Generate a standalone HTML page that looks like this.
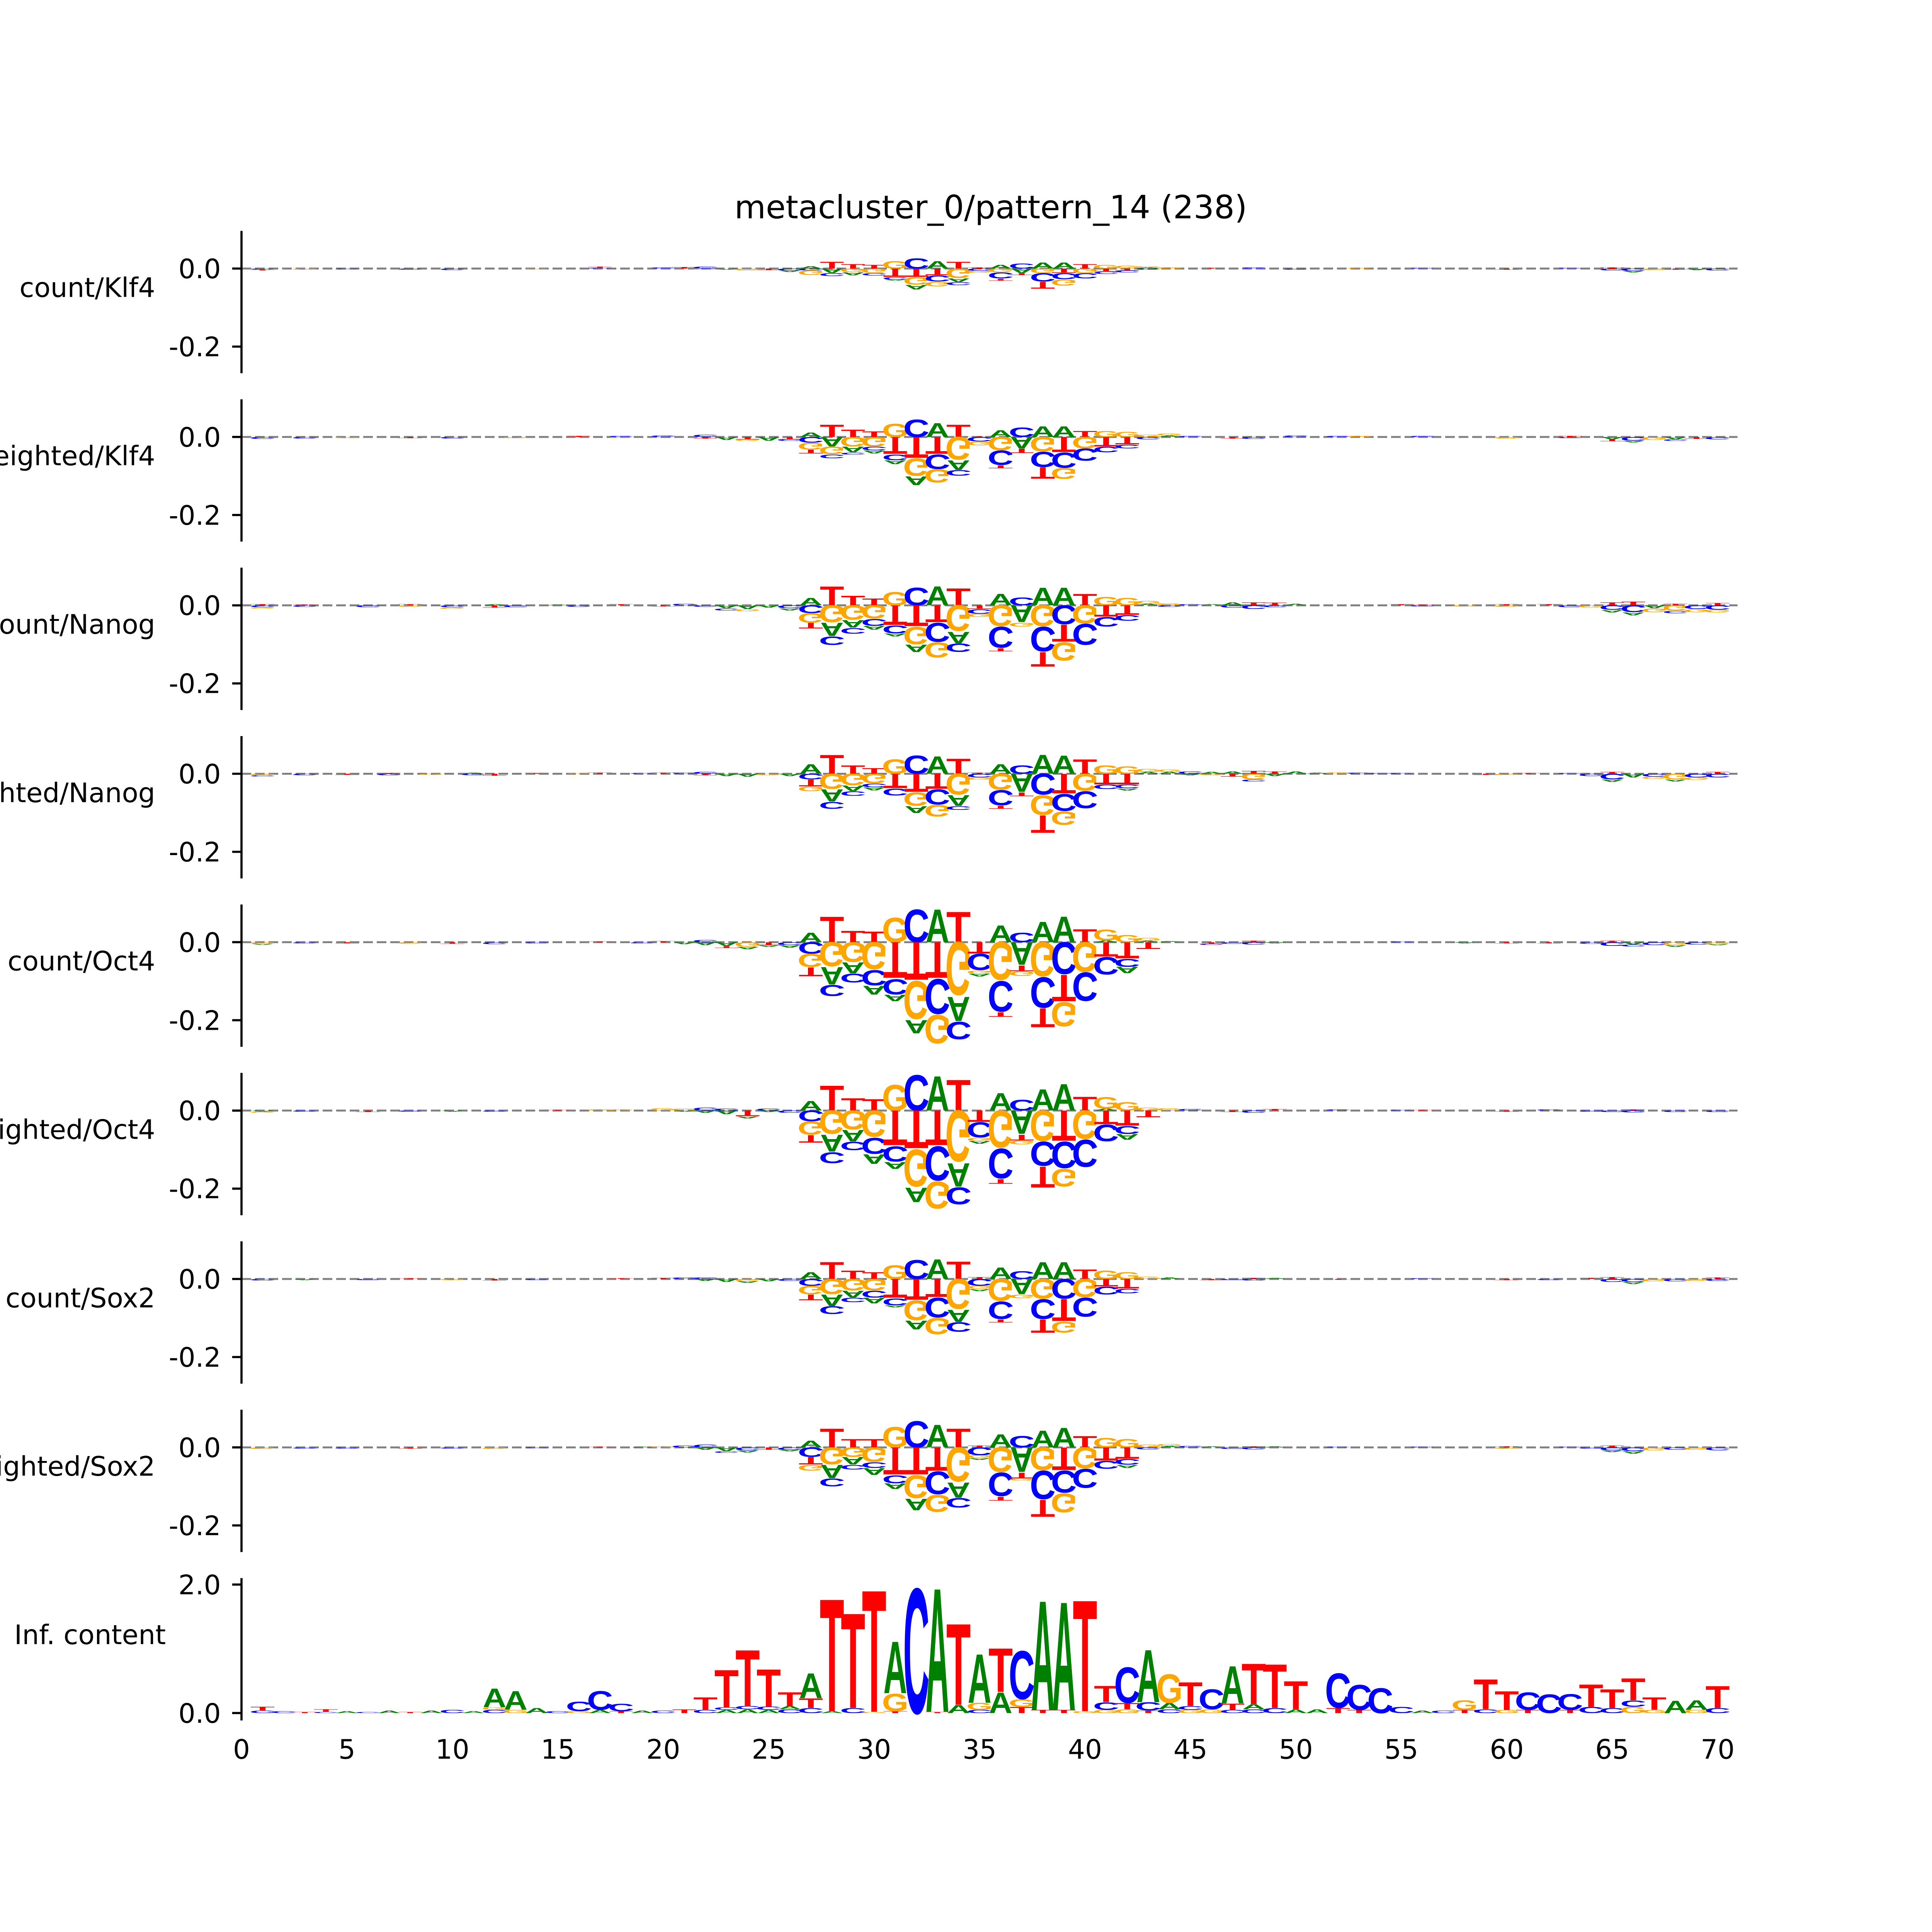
<!DOCTYPE html>
<html><head><meta charset="utf-8">
<style>
html,body{margin:0;padding:0;background:#fff;overflow:hidden;width:100%;height:100%;}
svg{display:block;width:100vw;height:100vh;}
text{font-family:"DejaVu Sans","Liberation Sans",sans-serif;}
text.logo{font-family:"Liberation Sans",sans-serif;}
</style></head>
<body>
<svg id="chart" xmlns="http://www.w3.org/2000/svg" viewBox="0 0 6000 6000" preserveAspectRatio="none">
<rect x="0" y="0" width="6000" height="6000" fill="#fff"/>
<text x="3077" y="678" font-size="100" text-anchor="middle">metacluster_0/pattern_14 (238)</text>
<g id="panels"></g>
</svg>
<script>
const panelLabels = ["count/Klf4","weighted/Klf4","count/Nanog","weighted/Nanog","count/Oct4","weighted/Oct4","count/Sox2","weighted/Sox2"];
const xTickLabels = [0,5,10,15,20,25,30,35,40,45,50,55,60,65,70];
const contribTickLabels = [0.0,-0.2];
const infTickLabels = [0.0,2.0];

const klf4Count = ["1:C-3,T-2","3:G-3","5:C-2","8:C-3","10:C-4","14:G-2","17:T3,C2","20:C3","21:T4","22:C5,G-3","23:A-3","24:G-5","25:T-4","26:C-5,A-4",
"27:A6,C-5,G-12","28:T18,A-12,C-8","29:T12,G-10,A-8","30:T10,G-12,C-6","31:G20,T-22,C-6,A-3","32:C27,T-22,G-20,A-12","33:A20,T-18,C-16,G-12","34:T18,G-25,A-10,C-8","35:T3,C-6,G-5","36:A10,G-10,C-16,T-5","37:C13,A-12,T-5","38:A16,G-12,C-22,T-18","39:A16,T-12,C-16,G-16","40:T12,G-12,C-14","41:G10,T-8,C-6","42:G8,T-5,C-5",
"43:A3,G3,C-3","44:G3","46:T2","48:C3","50:C-3","53:G2","56:C2","60:T-3","63:C2","65:T3,C-5","66:C-6,A-4","67:G-4","68:T-3","69:A-4","70:C-5"];

const klf4Weighted = ["1:C-5","3:C-4","5:G-3","8:T-3","10:C-4","13:G-3","16:T3","18:C3,G-2","20:C4","22:C6,T-4","23:A-8","24:T-6,G-4","25:A-10","26:T-6,C-4",
"27:A12,C-15,G-18,T-10","28:T32,A-25,G-20,C-10","29:T20,G-25,A-15,C-5","30:T15,G-25,C-10,A-8","31:G35,T-45,C-15,A-10","32:C46,T-55,G-46,A-23","33:A37,T-45,C-38,G-35","34:T32,G-60,A-25,C-15","35:T2,C-12,G-10","36:A18,G-35,C-38,T-8","37:C25,A-30,T-12","38:A28,G-38,C-40,T-30","39:A28,T-40,C-40,G-28","40:T16,G-30,C-32","41:G16,T-25,C-15","42:G14,T-20,C-10",
"43:G6,C-6","44:G5,A4","45:C3","47:T-4","48:C-5","50:C4","52:C3","53:G3","56:C3","60:G-4","63:T3,C-3","65:A-6,T-5","66:C-10,A-4","67:G-8","68:A-6,C-4","69:T-5","70:C-6"];

const nanogCount = ["1:T3,C-5,G-3","3:T2,C-4","6:C-5","8:T3,G-4","10:C-5,G-4","12:A3,T-6","13:C-5","15:A2","16:C-4","18:T3","20:T-3","21:C4","22:C-4","23:A-8,C-5","24:A-10,G-5","25:A-6","26:C-8,A-5",
"27:A20,C-20,G-25,T-15","28:T50,G-45,A-35,C-22","29:T25,G-38,A-20,C-15","30:T18,G-35,C-18,A-10","31:G35,T-52,C-20,A-8","32:C47,T-55,G-46,A-20","33:A50,T-45,C-50,G-40","34:T45,G-68,A-30,C-22","35:T-10,C-12,G-8","36:A30,G-55,C-55,T-8","37:C20,A-45,G-10","38:A47,G-55,C-65,T-38","39:A47,C-50,T-45,G-48","40:T30,G-48,C-55","41:G22,T-30,C-25","42:G20,T-25,C-15",
"43:G8,A4","44:G5,C-4","45:C3","46:A3","47:A8,C-6","48:T8,C-10","49:T7,C-5","50:A4","55:T3","56:T2,C-3","58:G-3","60:T3,G-4","62:T3","63:C-5","64:G-6","65:T8,C-12,A-6","66:T10,C-18,A-8","67:A-8,G-10","68:T4,G-14,C-6","69:C-10,G-8","70:T6,C-12,G-6"];

const nanogWeighted = ["1:G-4,C-3","3:C-4","5:T-3","7:T2,C-4","9:G-3","11:A3,C-4","12:T-5","14:T2","16:G2","17:T3","19:C2","20:T3","21:C3","22:C5,T-4","23:A-6","24:A-8","25:G-4","26:A-6",
"27:A25,C-15,T-18,G-12","28:T50,G-40,A-32,C-18","29:T22,G-30,A-15,C-12","30:T15,G-25,C-10,A-8","31:G38,T-38,C-18","32:C48,T-48,G-35,A-18","33:A46,T-40,C-40,G-30","34:T40,G-55,A-28,C-10","35:T3,C-10,G-5","36:A25,G-42,C-40,T-8","37:C22,A-48,T-10","38:A50,C-55,G-52,T-46","39:A48,T-52,C-45,G-35","40:T38,G-45,C-45","41:G22,T-28,C-12","42:G20,T-28,C-10,A-5",
"43:G8,A5","44:G6,A5","45:C6,A-4","46:A5,G-4","47:A6,T-8","48:T8,G-15,C-5","49:T6,A-6","50:A6","51:A3","52:G4","53:C3","54:C2","55:C2","59:T-3","60:G-3","61:T2","63:C2","64:C-6","65:T5,C-15,A-6","66:A-10","67:C-8,G-5","68:G-15,A-5","69:C-10,G-6","70:T5,C-10"];

const oct4Count = ["1:G-4,A-3","3:C-3","5:T-3","8:G-4","10:T-4","12:C-5","14:C-3","17:T2","19:C-3","20:T3","21:A-5","22:C6,A-8","23:A-10,T-5","24:G-12,A-6","25:T-8,A-4","26:C-8,A-6",
"27:A25,C-30,G-35,T-23","28:T68,G-64,A-46,C-29","29:T30,G-52,A-29,C-23","30:T28,G-72,C-40,A-23","31:G65,T-95,C-40,A-17","32:C86,T-100,G-100,A-35","33:A87,T-95,C-92,G-75","34:T80,G-140,A-64,C-46","35:T-30,C-43,G-8,A-7","36:A45,G-100,C-80,T-12","37:C25,A-60,T-15,G-12","38:A54,G-90,C-80,T-50","39:A68,C-84,T-70,G-64","40:T34,G-78,C-75","41:G28,A5,T-38,C-46","42:G19,T-43,C-20,A-17",
"43:G8,A4,T-18","44:A3","46:T-4,C-3","47:C-4","48:T4,C-6","49:A-3","55:C2","58:A-3","60:T-3","62:T-3","64:C-4","65:T4,C-10","66:A-6,C-5","67:C-8","68:G-8,A-4","69:C-6","70:G-5,A-3"];

const oct4Weighted = ["1:A-3,G-3","3:C-3","6:T-4","8:C-3","10:A-3","12:C-3","15:T2","17:G3","18:G3","20:G6","21:G5,A-3","22:C8,A-6","23:C5,A-10","24:T-15,A-5","25:C5,A-4","26:C-6",
"27:A25,C-28,G-35,T-20","28:T66,G-62,A-45,C-28","29:T32,G-50,A-30,C-22","30:T30,G-70,C-42,A-25","31:G68,T-92,C-40,A-18","32:C94,T-100,G-98,A-38","33:A91,T-92,C-90,G-72","34:T81,G-135,A-62,C-45","35:T-30,C-40,G-8,A-7","36:A46,G-98,C-78,T-12","37:C28,A-62,T-15,G-10","38:A56,G-80,C-64,T-55","39:A70,T-80,C-70,G-46","40:T36,G-75,C-72","41:G30,A5,T-36,C-44","42:G22,T-40,C-20,A-15",
"43:G8,T-18","44:G6","45:C4","47:T-4","48:C-6","49:T4","52:C3","55:C2","56:T2","60:T-3","62:C3","64:C-3","65:C-4","66:T3,C-5","68:C-4","70:C-4"];

const sox2Count = ["1:C-4","3:A-3","6:C-3","8:T2","10:G-3","12:T-4","14:C-3","18:T2","20:T3","21:C4","22:C4,A-5","23:A-8","24:G-6,A-4","25:A-6","26:C-5",
"27:A18,C-18,G-22,T-15","28:T45,G-40,A-30,C-20","29:T22,G-30,A-18,C-12","30:T18,G-30,C-18,A-15","31:G36,T-50,C-18,A-5","32:C50,T-55,G-52,A-23","33:A52,T-48,C-52,G-43","34:T46,G-79,A-32,C-25","35:T5,C-18,G-8,A-5","36:A30,G-58,C-46,T-8","37:C20,A-40,G-10","38:A45,G-52,C-52,T-35","39:A45,C-52,T-58,G-28","40:T25,G-48,C-50","41:G22,T-20,C-20","42:G18,T-25,C-12",
"43:G6","44:A4","46:T-3","47:C-3","48:T3,C-4","49:A3","52:T-2","56:C2","60:T-3","62:C-3","64:T3","65:T5,C-8","66:C-8,A-5","67:G-6","68:C-6","69:G-5","70:T4,C-5"];

const sox2Weighted = ["1:G-4","3:C-3","5:C-3","8:T-3","10:C-3","12:G-4","14:C-2","17:T2","19:A2","20:G3","21:C5","22:C8,A-6","23:A-10,C-4","24:C-8,A-5","25:T-6","26:C-6,A-4",
"27:A18,C-25,T-20,G-15","28:T50,G-45,A-35,C-20","29:T22,G-25,A-20,C-12","30:T22,G-38,C-15,A-18","31:G54,T-72,C-20,A-15","32:C70,T-72,G-60,A-30","33:A60,T-62,C-60,G-45","34:T50,G-90,A-40,C-25","35:T5,C-20,G-8,A-4","36:A35,G-65,C-62,T-10","37:C30,A-65,T-15,G-5","38:A45,G-60,C-75,T-45","39:A52,T-60,C-58,G-50","40:T30,G-55,C-50","41:G25,T-35,C-20","42:G22,T-30,C-15,A-8",
"43:G8,C-5","44:G5,A4","45:C4","46:A3","47:C-4","48:T3,C-5","49:A3","52:C2","56:C2","60:T3,G-3","63:C2","64:C-3","65:T5,C-8,A-4","66:C-10,A-6","67:G-8","68:C-6","69:G-6","70:C-8"];

const infContent = ["1:C0.04,T0.06","2:C0.03","3:T0.02","4:C0.02,T0.04","5:A0.03","6:C0.02","7:A0.04","8:T0.02","9:A0.04","10:C0.05","11:A0.03","12:C0.05,G0.04,A0.3","13:G0.05,A0.3","14:A0.08","15:C0.03","16:G0.03,C0.15","17:A0.05,C0.3","18:T0.03,C0.12","19:A0.04","20:C0.04",
"21:T0.06","22:C0.05,T0.2","23:A0.05,C0.04,T0.6","24:A0.06,C0.05,T0.9","25:A0.05,C0.05,T0.6","26:C0.06,A0.05,T0.22","27:C0.08,T0.15,A0.4","28:A0.03,T1.8","29:C0.08,T1.52","30:G0.02,T1.95",
"31:T0.03,G0.28,A0.83","32:C2.0","33:T0.02,A1.98","34:A0.13,T1.3","35:C0.05,G0.11,A0.78","36:A0.33,T0.7","37:T0.1,G0.12,C0.77","38:T0.05,A1.75","39:T0.05,A1.73","40:G0.03,T1.78",
"41:G0.05,C0.12,T0.26","42:G0.06,T0.1,C0.57","43:T0.04,C0.13,A0.84","44:C0.06,A0.1,G0.46","45:G0.05,C0.06,T0.38","46:G0.06,C0.32","47:C0.05,T0.1,A0.6","48:C0.06,A0.08,T0.65","49:C0.08,T0.7","50:A0.06,T0.45",
"51:A0.06","52:T0.08,C0.55","53:T0.05,C0.4","54:C0.4","55:C0.1","56:A0.04","57:C0.04","58:T0.05,G0.15","59:C0.06,T0.48","60:G0.05,T0.3",
"61:T0.05,C0.28","62:C0.3","63:T0.05,C0.25","64:C0.1,T0.36","65:C0.08,T0.3","66:G0.1,C0.1,T0.35","67:G0.05,T0.2","68:A0.2","69:G0.05,A0.15","70:C0.08,T0.35"];

const contribPanels = [klf4Count, klf4Weighted, nanogCount, nanogWeighted, oct4Count, oct4Weighted, sox2Count, sox2Weighted];

const NS = "http://www.w3.org/2000/svg";
const X0 = 750, XPX = 65.49, XEND = 5396;
const LETTER_W = 72;
const COLORS = {A:"#008000", C:"#0000ff", G:"#ffa500", T:"#ff0000"};
const INK_W = {A:71, C:64, G:68, T:58};
const CAP = 71.6;
function xPos(p){ return X0 + XPX * p; }

function parseEntries(arr){
  const out = {};
  arr.forEach(s => {
    const [p, rest] = s.split(":");
    out[+p] = rest.split(",").map(e => ({b: e[0], v: parseFloat(e.slice(1))}));
  });
  return out;
}

function mk(tag, attrs, parent){
  const el = document.createElementNS(NS, tag);
  for (const k in attrs) el.setAttribute(k, attrs[k]);
  parent.appendChild(el);
  return el;
}

function drawLetter(g, base, cx, yEdge, hpx, flipped){
  if (hpx < 0.3) return;
  const sx = LETTER_W / INK_W[base];
  const sy = hpx / CAP;
  const t = mk("text", {"class":"logo","font-size":"100","font-weight":"bold","text-anchor":"middle","fill":COLORS[base],
    "transform":"translate("+cx.toFixed(1)+","+yEdge.toFixed(1)+") scale("+sx.toFixed(3)+","+(flipped?-sy:sy).toFixed(4)+")"}, g);
  
  
  t.textContent = base;
}

function drawYAxis(g, top, bottom, ticks, yOf){
  const sp = mk("line", {x1:X0, x2:X0, y1:top, y2:bottom, stroke:"#000", "stroke-width":"6.7"}, g);
  
  
  ticks.forEach(v => {
    const y = yOf(v);
    const tk = mk("line", {x1:X0-29, x2:X0, y1:y, y2:y, stroke:"#000", "stroke-width":"6.7"}, g);
    
    
    const lb = mk("text", {x:686, y:(y+30).toFixed(1), "font-size":"83", "text-anchor":"end"}, g);
    
    
    lb.textContent = v.toFixed(1);
  });
}

const root = document.getElementById("panels");
const YSCALE = 1212;
contribPanels.forEach((panel, k) => {
  const y0 = 834 + 523 * k;
  const yOf = v => y0 - v * YSCALE;
  const g = mk("g", {}, root);
  
  
  const zl = mk("line", {x1:X0, x2:XEND, y1:y0, y2:y0, stroke:"#808080", "stroke-width":"6", "stroke-dasharray":"30 12"}, g);
  
  
  const data = parseEntries(panel);
  Object.keys(data).forEach(p => {
    const cx = xPos(+p);
    const ents = data[p];
    const pos = ents.filter(e => e.v > 0).sort((a, b) => a.v - b.v);
    const neg = ents.filter(e => e.v < 0);
    let yb = y0;
    pos.forEach(e => { const h = e.v / 1000 * YSCALE; drawLetter(g, e.b, cx, yb, h, false); yb -= h; });
    let yt = y0;
    neg.forEach(e => { const h = -e.v / 1000 * YSCALE; drawLetter(g, e.b, cx, yt, h, true); yt += h; });
  });
  drawYAxis(g, y0 - 117, y0 + 325, contribTickLabels, yOf);
  const yl = mk("text", {x:482, y:y0 + 88, "font-size":"83", "text-anchor":"end"}, g);
  
  
  yl.textContent = panelLabels[k];
});

(function(){
  const y0 = 5320, S = 199.5;
  const yOf = v => y0 - v * S;
  const g = mk("g", {}, root);
  
  
  const data = parseEntries(infContent);
  Object.keys(data).forEach(p => {
    const cx = xPos(+p);
    let yb = y0;
    data[p].forEach(e => { const h = e.v * S; drawLetter(g, e.b, cx, yb, h, false); yb -= h; });
  });
  drawYAxis(g, 4901, 5343, infTickLabels, yOf);
  const yl = mk("text", {x:515, y:5106, "font-size":"83", "text-anchor":"end"}, g);
  
  
  yl.textContent = "Inf. content";
  xTickLabels.forEach(v => {
    const t = mk("text", {x:xPos(v).toFixed(1), y:5462, "font-size":"83", "text-anchor":"middle"}, g);
    
    
    t.textContent = v;
  });
})();
</script>
</body></html>
